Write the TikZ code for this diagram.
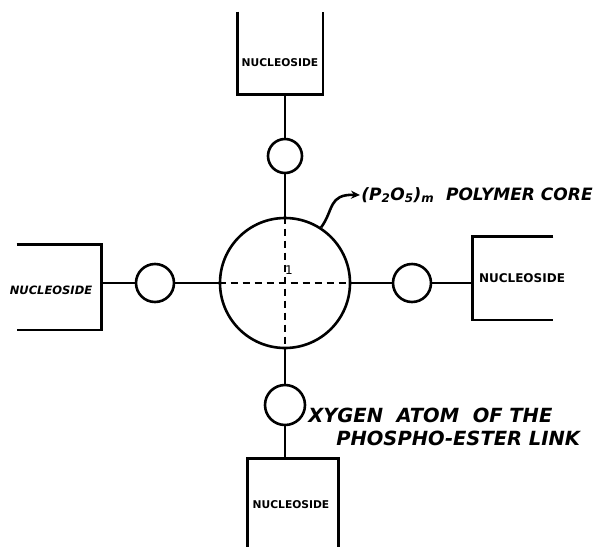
\documentclass[tikz,border=0pt]{standalone}
\usepackage{fontspec}
\setmainfont{DejaVu Sans}
\usetikzlibrary{arrows.meta}
\begin{document}
\begin{tikzpicture}[x=1pt,y=-1pt,line width=2.6pt,
  core/.style={circle,draw,minimum size=130pt,inner sep=0pt},
  oxy/.style={circle,draw,minimum size=#1,inner sep=0pt},
  slot/.style={rectangle,inner sep=0pt,minimum width=#1},
  tag/.style={font=\bfseries\fontsize{#1}{#1}\selectfont,inner sep=0pt},
  note/.style={font=\bfseries\fontsize{#1}{#1}\selectfont\itshape,anchor=west,inner sep=0pt}]
\useasboundingbox (0,0) rectangle (593,546);
% central polymer core with its dashed cross
\node[core] (core) at (285,283) {};
\draw[line width=1.6pt,dash pattern=on 7pt off 5pt] (core.west) -- (core.east);
\draw[line width=1.6pt,dash pattern=on 7pt off 5pt] (core.north) -- (core.south);
\node[font=\fontsize{12}{12}\selectfont,inner sep=0pt] (one) at (289,270) {1};
% oxygen atoms
\node[oxy=34pt] (ot) at (285,156) {};
\node[oxy=38pt] (ol) at (155,283) {};
\node[oxy=38pt] (or) at (412,283) {};
\node[oxy=40pt] (ob) at (285,405) {};
% nucleoside holders (open on the outer side)
\node[slot=83pt,minimum height=80pt] (nt) at (280,53) {};
\node[slot=82pt,minimum height=83pt] (nl) at (59,287) {};
\node[slot=78pt,minimum height=81pt] (nr) at (513,278) {};
\node[slot=88pt,minimum height=86pt] (nb) at (293,503) {};
\draw (nt.north west) -- (nt.south west) -- (nt.south east) -- (nt.north east);
\draw (nl.north west) -- (nl.north east) -- (nl.south east) -- (nl.south west);
\draw (nr.north east) -- (nr.north west) -- (nr.south west) -- (nr.south east);
\draw (nb.south west) -- (nb.north west) -- (nb.north east) -- (nb.south east);
\node[tag=10.7] at (280,63) {NUCLEOSIDE};
\node[tag=11.5] at (51,290) {\itshape NUCLEOSIDE};
\node[tag=12] at (522,278) {NUCLEOSIDE};
\node[tag=10.7] at (291,505) {NUCLEOSIDE};
% ester links
\draw (nt.south -| ot) -- (ot.north);
\draw (ot.south) -- (core.north);
\draw (nl.east |- ol) -- (ol.west);
\draw (ol.east) -- (core.west);
\draw (core.east) -- (or.west);
\draw (or.east) -- (nr.west |- or);
\draw (core.south) -- (ob.north);
\draw (ob.south) -- (nb.north -| ob);
% labels
\node[note=17] (pc) at (360,195) {(P\textsubscript{2}O\textsubscript{5})\textsubscript{m}\ \ POLYMER CORE};
\draw[-{Stealth[length=9pt,width=8pt]}] (core.57) .. controls (334,210) and (328,194) .. (pc.west);
\node[note=19.5] (ox1) at (307,415) {XYGEN\ \ ATOM\ \ OF THE};
\node[note=19.5] (ox2) at (335,438) {PHOSPHO-ESTER LINK};
\end{tikzpicture}
\end{document}
